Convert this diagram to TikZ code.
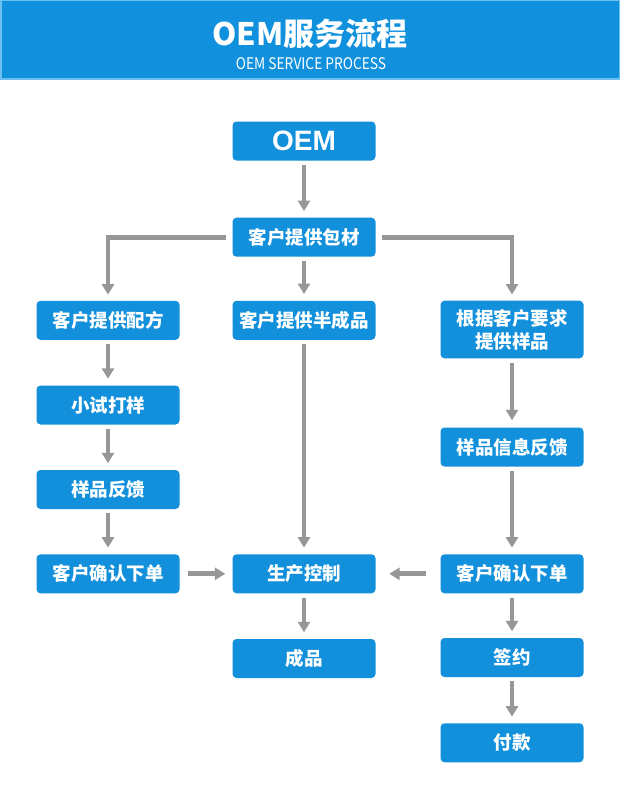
\documentclass[tikz,border=0pt]{standalone}
\usepackage{fontspec}
\setmainfont{Liberation Sans}
\newfontfamily\cjk{Noto Sans CJK SC}
\usetikzlibrary{arrows.meta}
\definecolor{boxblue}{HTML}{1290DC}
\definecolor{headblue}{HTML}{1191DD}
\definecolor{headedge}{HTML}{6CC0F0}
\definecolor{arrgray}{HTML}{979797}
\begin{document}
\begin{tikzpicture}[x=1pt,y=-1pt,
  box/.style={fill=boxblue, rounded corners=4pt, minimum width=143pt, minimum height=39pt, inner sep=0pt, text=white, font=\cjk\bfseries\fontsize{18.5}{22.5}\selectfont, align=center},
  arr/.style={draw=arrgray, line width=4.7pt, -{Triangle[width=12pt,length=10.5pt]}, shorten <=4pt, shorten >=6.5pt}]
\useasboundingbox (0,0) rectangle (620,800);
\fill[white] (0,0) rectangle (620,800);
% header
\draw[fill=headblue, draw=headedge, line width=1.5pt] (0.75,0.75) rectangle (619.25,79);
\node[text=white, font=\cjk\bfseries\fontsize{31}{36}\selectfont, inner sep=0pt] (title) at (310,34) {OEM服务流程};
\node[text=white, font=\cjk\fontsize{16}{18}\selectfont, inner sep=0pt, xscale=0.86] (sub) at (311,63.5) {OEM SERVICE PROCESS};
% boxes
\node[box, font=\bfseries\fontsize{28}{32}\selectfont] (oem) at (304,141) {OEM};
\node[box] (pc) at (304,237.2) {客户提供包材};
\node[box] (pf) at (108,320.3) {客户提供配方};
\node[box] (bc) at (304,320.3) {客户提供半成品};
\node[box, minimum height=57.6pt, font=\cjk\bfseries\fontsize{18.5}{23}\selectfont] (yp) at (512,329.5) {根据客户要求\\提供样品};
\node[box] (xs) at (108,405) {小试打样};
\node[box] (fk) at (108,489.5) {样品反馈};
\node[box] (xx) at (512,447) {样品信息反馈};
\node[box] (qr1) at (108,573.8) {客户确认下单};
\node[box] (sc) at (304,573.8) {生产控制};
\node[box] (qr2) at (512,573.8) {客户确认下单};
\node[box] (cp) at (304,658.5) {成品};
\node[box] (qy) at (512,657.5) {签约};
\node[box] (fkk) at (512,742.8) {付款};
% connectors
\draw[arr] (oem) -- (pc);
\draw[arr, shorten <=6pt, shorten >=6pt] (pc.west) -| (pf.north);
\draw[arr, shorten <=6pt, shorten >=6pt] (pc.east) -| (yp.north);
\draw[arr] (pc) -- (bc);
\draw[arr] (bc) -- (sc);
\draw[arr] (pf) -- (xs);
\draw[arr] (xs) -- (fk);
\draw[arr] (fk) -- (qr1);
\draw[arr, shorten >=7pt] (yp) -- (xx);
\draw[arr] (xx) -- (qr2);
\draw[arr] (qr2) -- (qy);
\draw[arr] (qy) -- (fkk);
\draw[arr] (sc) -- (cp);
\draw[arr, shorten <=8.5pt, shorten >=7pt] (qr1) -- (sc);
\draw[arr, shorten <=14.5pt, shorten >=13.5pt] (qr2) -- (sc);
\end{tikzpicture}
\end{document}
